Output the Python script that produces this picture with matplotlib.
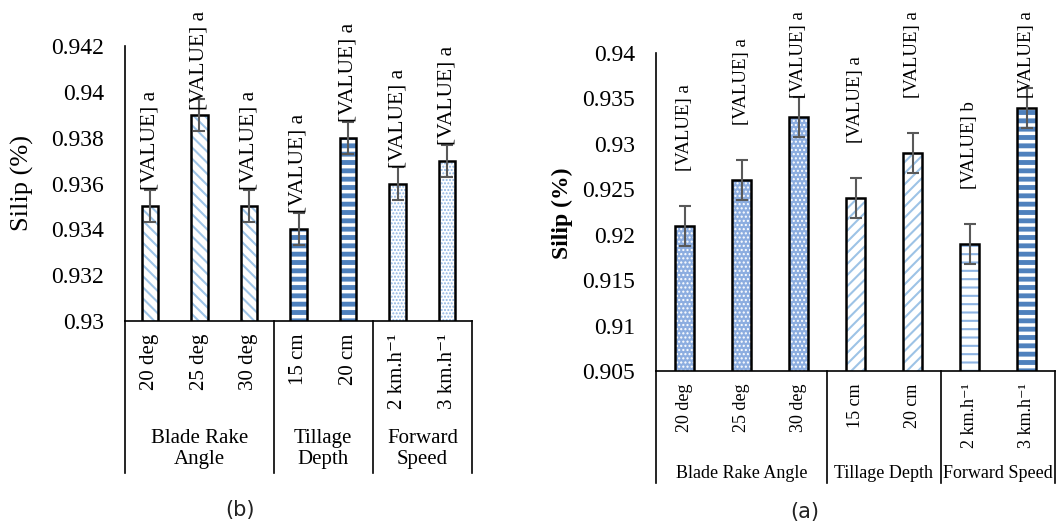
import matplotlib.pyplot as plt
import numpy as np

plt.rcParams['font.family'] = ['Liberation Serif', 'DejaVu Serif']
plt.rcParams['hatch.linewidth'] = 1.5

W, H, DPI = 1056, 528, 100

# data
levels = ["20 deg", "25 deg", "30 deg", "15 cm", "20 cm", "2 km.h⁻¹", "3 km.h⁻¹"]
group_sizes = [3, 2, 2]
groups_b = ["Blade Rake\nAngle", "Tillage\nDepth", "Forward\nSpeed"]
groups_a = ["Blade Rake Angle", "Tillage Depth", "Forward Speed"]

slip_b = [0.935, 0.939, 0.935, 0.934, 0.938, 0.936, 0.937]
err_b = [0.0007] * 7
letters_b = ["a", "a", "a", "a", "a", "a", "a"]

slip_a = [0.921, 0.926, 0.933, 0.924, 0.929, 0.919, 0.934]
err_a = [0.0022] * 7
letters_a = ["a", "a", "a", "a", "a", "b", "a"]

LIGHT = '#9DC3E6'
DARK = '#4F81BD'

# (face, hatch, hatch colour, hatch linewidth)
styles_b = [('white', '\\\\\\', LIGHT, 1.5)] * 3 + \
           [('white', '--', DARK, 3.5)] * 2 + \
           [('white', '.....', '#8DB3E2', 1.0)] * 2
styles_a = [('#8CADE0', '....', 'white', 1.0)] * 3 + \
           [('white', '///', LIGHT, 1.5)] * 2 + \
           [('white', '--', '#8DB3E2', 1.5), ('white', '--', DARK, 3.5)]


def fmt(v):
    return f"{v:.3f}".rstrip('0')


def panel(rect, vals, errs, letters, styles, ylim, yticks, groups,
          sep_px, group_px, lab_off, lab_min, fs):
    ax = fig.add_axes(rect)
    x = np.arange(len(vals))
    ax.set_xlim(-0.5, len(vals) - 0.5)
    ax.set_ylim(*ylim)
    for i, (v, st) in enumerate(zip(vals, styles)):
        face, hatch, hcol, hlw = st
        p = ax.bar(x[i], v, width=0.33, color=face, edgecolor=hcol,
                   linewidth=0, hatch=hatch, zorder=2)[0]
        try:
            p.set_hatch_linewidth(hlw)
        except AttributeError:
            pass
        ax.bar(x[i], v, width=0.33, fill=False, edgecolor='black',
               linewidth=1.8, zorder=3)
    ax.errorbar(x, vals, yerr=errs, fmt='none', ecolor='#595959',
                elinewidth=1.5, capsize=4, capthick=1.5, zorder=4)

    for s in ['top', 'right']:
        ax.spines[s].set_visible(False)
    for s in ['left', 'bottom']:
        ax.spines[s].set_linewidth(1.2)
        ax.spines[s].set_color('black')

    ax.set_yticks(yticks)
    ax.set_yticklabels([fmt(t) for t in yticks], fontsize=17)
    ax.tick_params(axis='y', length=0, pad=15)
    ax.set_xticks(x)
    ax.set_xticklabels(levels, rotation=90, fontsize=fs)
    ax.tick_params(axis='x', length=0, pad=9)

    # category table lines under the axis
    axh = rect[3] * H
    ext = -sep_px / axh
    bounds = np.concatenate([[0], np.cumsum(group_sizes)]) - 0.5
    tr = ax.get_xaxis_transform()
    for b in bounds:
        ax.plot([b, b], [0, ext], color='black', lw=1.2, transform=tr,
                clip_on=False)
    for g, (lo, hi) in enumerate(zip(bounds[:-1], bounds[1:])):
        ax.text((lo + hi) / 2, -group_px / axh, groups[g], transform=tr,
                ha='center', va='center', fontsize=fs, linespacing=1.2)

    # data labels
    for i, (v, lt) in enumerate(zip(vals, letters)):
        top_img = H - ax.transData.transform((x[i], v))[1]
        bottom_img = max(top_img - lab_off, lab_min)
        ax.annotate(f"[VALUE] {lt}", (x[i], v),
                    xytext=(0, top_img - bottom_img),
                    textcoords='offset pixels', rotation=90,
                    ha='center', va='bottom', fontsize=fs + 0.5, zorder=5)
    return ax


fig = plt.figure(figsize=(W / DPI, H / DPI), dpi=DPI)

# panel (b)
ax_b = panel([125 / W, 1 - 321 / H, 347 / W, 275 / H],
             slip_b, err_b, letters_b, styles_b,
             (0.93, 0.942), np.arange(0.93, 0.9421, 0.002), groups_b,
             sep_px=152, group_px=128, lab_off=16, lab_min=110, fs=15)
fig.text(22 / W, 1 - 183 / H, "Silip (%)", rotation=90, ha='center',
         va='center', fontsize=19)

# panel (a)
ax_a = panel([656 / W, 1 - 371 / H, 399 / W, 318 / H],
             slip_a, err_a, letters_a, styles_a,
             (0.905, 0.94), np.arange(0.905, 0.9401, 0.005), groups_a,
             sep_px=112, group_px=102, lab_off=55, lab_min=98, fs=13)
fig.text(562 / W, 1 - 213 / H, "Silip (%)", rotation=90, ha='center',
         va='center', fontsize=17, fontweight='bold')

fig.text(240 / W, 1 - 510 / H, "(b)", ha='center', va='center',
         fontsize=15, family='DejaVu Sans', color='#222222')
fig.text(805 / W, 1 - 512 / H, "(a)", ha='center', va='center',
         fontsize=15, family='DejaVu Sans', color='#222222')

fig.savefig("out.png", dpi=DPI)
